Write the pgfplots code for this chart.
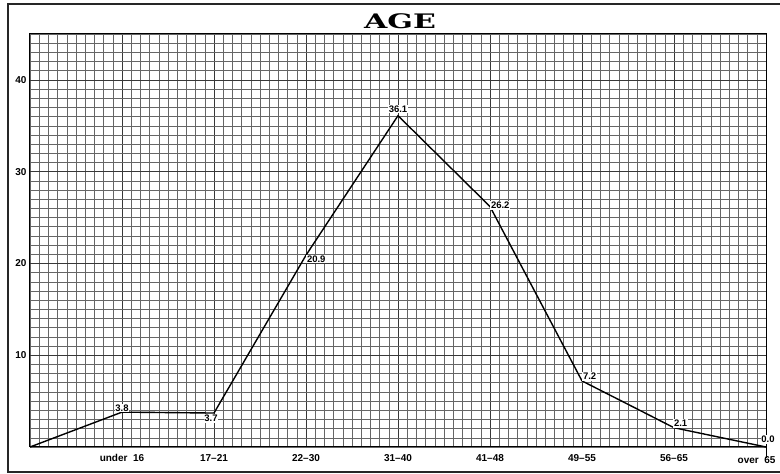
\documentclass[border=0pt]{standalone}
\usepackage{fontspec}
\setmainfont{Liberation Sans}
\newfontfamily\titlefont{DejaVu Serif}
\usepackage{graphicx}
\usepackage{pgfplots}
\pgfplotsset{compat=1.18}

\begin{document}
\begin{tikzpicture}[x=1pt,y=1pt]
\useasboundingbox (0,0) rectangle (780,474);
\fill[white] (0,0) rectangle (780,474);
% outer frame of the page
\draw[line width=1.6pt, black!85] (8,2) rectangle (800,470);
% title
\node[font=\titlefont\bfseries\fontsize{20}{22}\selectfont] at (400,453)
    {\scalebox{1.5}[1]{AGE}};

\begin{axis}[
    at={(30pt,27pt)}, anchor=south west,
    scale only axis,
    width=736pt, height=413pt,
    xmin=0, xmax=8, ymin=0, ymax=45,
    xtick={1,...,8},
    xticklabels={under\ \ 16, 17--21, 22--30, 31--40, 41--48, 49--55, 56--65, {}},
    ytick={10,20,30,40},
    minor xtick={0,0.1,...,8.05},
    minor ytick={0,1,...,45},
    grid=both,
    minor grid style={black!60, line width=0.55pt},
    major grid style={black!78, line width=0.75pt},
    major tick length=0pt, minor tick length=0pt,
    tick label style={font=\fontsize{10}{12}\selectfont\bfseries},
    /pgf/number format/assume math mode=true,
    xticklabel style={yshift=-4pt},
    axis line style={black, line width=1pt},
    clip=false,
]
\addplot[black, line width=1.4pt, mark=none] coordinates {
    (0,0) (1,3.8) (2,3.7) (3,20.9) (4,36.1) (5,26.2) (6,7.2) (7,2.1) (8,0.0)
};
\draw[black, line width=0.8pt] (axis cs:8,0) -- ++(0,-11pt);
% last category label, kept inside the page edge
\node[anchor=north east, font=\fontsize{10}{12}\selectfont\bfseries,
      xshift=13pt, yshift=-6pt] at (axis cs:8,0) {over\ \ 65};
% value labels
\begin{scope}[every node/.style={font=\fontsize{9.5}{11}\selectfont\bfseries, inner sep=0.8pt, fill=white}]
\node[anchor=south] at (axis cs:1,3.8) [yshift=0pt] {3.8};
\node[anchor=north] at (axis cs:2,3.7) [xshift=-3pt,yshift=-1pt] {3.7};
\node[anchor=west] at (axis cs:3,20.9) [yshift=-4pt] {20.9};
\node[anchor=south] at (axis cs:4,36.1) [yshift=2pt] {36.1};
\node[anchor=west] at (axis cs:5,26.2) [yshift=1pt] {26.2};
\node[anchor=south west] at (axis cs:6,7.2) [yshift=0pt] {7.2};
\node[anchor=south west] at (axis cs:7,2.1) [xshift=-1pt,yshift=0pt] {2.1};
\node[anchor=south] at (axis cs:8,0.0) [xshift=2pt,yshift=3pt] {0.0};
\end{scope}
\end{axis}
\end{tikzpicture}
\end{document}
